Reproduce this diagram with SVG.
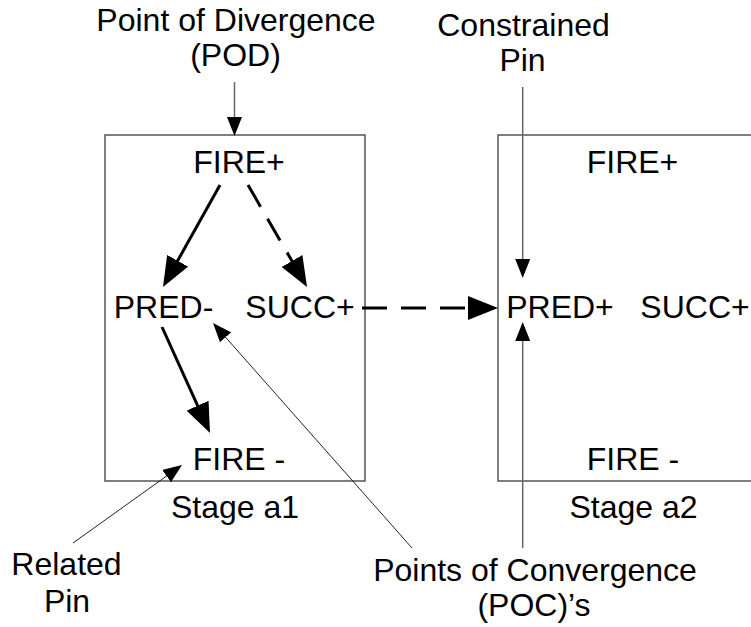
<svg xmlns="http://www.w3.org/2000/svg" width="751" height="627" viewBox="0 0 751 627">
  <style>
    text { font-family: "Liberation Sans", Arial, sans-serif; font-size: 32px; fill: #000; text-anchor: middle; }
    .box { fill: none; stroke: #555; stroke-width: 1.5; }
    .bold { stroke: #000; stroke-width: 3; fill: none; }
    .dash { stroke-dasharray: 25 14; }
    .thin { stroke: #222; stroke-width: 1; fill: none; }
    .pin { stroke: #666; stroke-width: 1.5; fill: none; }
  </style>
  <defs>
    <marker id="headBig" markerUnits="userSpaceOnUse" markerWidth="30" markerHeight="24" refX="6" refY="12" orient="auto">
      <path d="M0,0 L30,12 L0,24 z" fill="#000"/>
    </marker>
    <marker id="headSmall" markerUnits="userSpaceOnUse" markerWidth="19" markerHeight="15" refX="3" refY="7.5" orient="auto">
      <path d="M0,0 L19,7.5 L0,15 z" fill="#000"/>
    </marker>
  </defs>

  <!-- stage a1 -->
  <g id="stage-a1">
    <rect class="box" x="105" y="135" width="260" height="346"/>
    <text x="235" y="518">Stage a1</text>
  </g>
  <g id="a1-fire-plus"><text x="239" y="173">FIRE+</text></g>
  <g id="a1-pred-minus"><text x="163.5" y="318">PRED-</text></g>
  <g id="a1-succ-plus"><text x="300" y="318">SUCC+</text></g>
  <g id="a1-fire-minus"><text x="239" y="470">FIRE -</text></g>

  <!-- stage a2 -->
  <g id="stage-a2">
    <rect class="box" x="498" y="135" width="280" height="346"/>
    <text x="633.5" y="518">Stage a2</text>
  </g>
  <g id="a2-fire-plus"><text x="632.5" y="173">FIRE+</text></g>
  <g id="a2-pred-plus"><text x="560" y="318">PRED+</text></g>
  <g id="a2-succ-plus"><text x="695" y="318">SUCC+</text></g>
  <g id="a2-fire-minus"><text x="633" y="470">FIRE -</text></g>

  <!-- annotations -->
  <g id="label-pod">
    <text x="236" y="31">Point of Divergence</text>
    <text x="235.5" y="66">(POD)</text>
  </g>
  <g id="label-constrained">
    <text x="523.5" y="36">Constrained</text>
    <text x="522.5" y="71">Pin</text>
  </g>
  <g id="label-related">
    <text x="66.5" y="575">Related</text>
    <text x="67" y="612">Pin</text>
  </g>
  <g id="label-poc">
    <text x="535" y="581">Points of Convergence</text>
    <text x="534" y="616">(POC)’s</text>
  </g>

  <!-- connectors -->
  <g id="connectors">
    <line class="bold" x1="220" y1="185" x2="174.7" y2="266" marker-end="url(#headBig)"/>
    <line class="bold dash" x1="248" y1="185" x2="295" y2="266.2" marker-end="url(#headBig)"/>
    <line class="bold" x1="162" y1="327" x2="200.1" y2="411.1" marker-end="url(#headBig)"/>
    <line class="bold dash" x1="362" y1="308" x2="474" y2="308" marker-end="url(#headBig)"/>

    <line class="pin" x1="234.5" y1="82" x2="234.5" y2="120" marker-end="url(#headSmall)"/>
    <line class="pin" x1="522.7" y1="87" x2="522.7" y2="262" marker-end="url(#headSmall)"/>
    <line class="pin" x1="522.7" y1="548" x2="522.7" y2="338" marker-end="url(#headSmall)"/>
    <line class="thin" x1="73" y1="543" x2="169" y2="474.3" marker-end="url(#headSmall)"/>
    <line class="thin" x1="412" y1="548" x2="223.6" y2="335" marker-end="url(#headSmall)"/>
  </g>
</svg>
